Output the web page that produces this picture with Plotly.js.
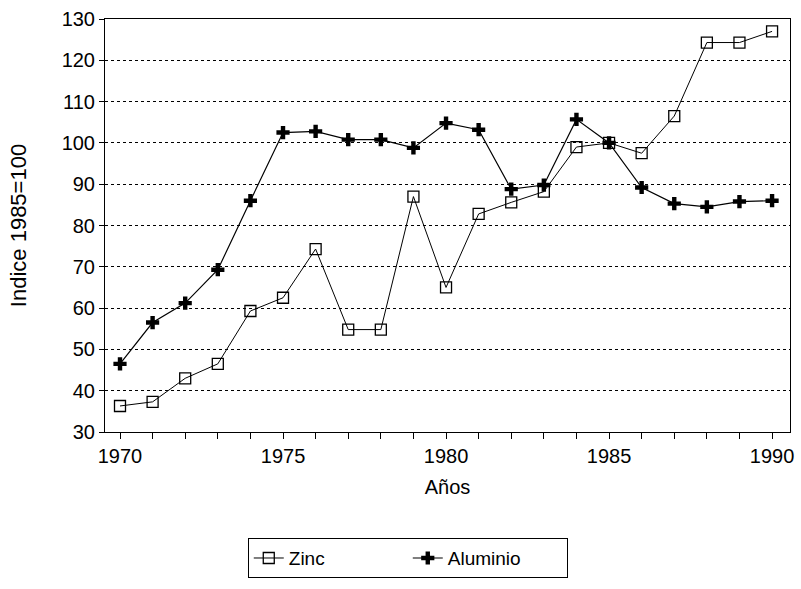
<!DOCTYPE html>
<html>
<head>
<meta charset="utf-8">
<script src="https://cdn.plot.ly/plotly-3.0.1.min.js"></script>
<style>html,body{margin:0;padding:0;background:#fff;}#chart{width:801px;height:589px;}</style>
</head>
<body>
<div id="chart"></div>
<script>
const years = [1970,1971,1972,1973,1974,1975,1976,1977,1978,1979,1980,1981,1982,1983,1984,1985,1986,1987,1988,1989,1990];
const zinc = [36.3,37.3,43,46.5,59.3,62.5,74.3,54.8,54.8,87,65,82.8,85.6,88.2,99,100,97.5,106.5,124.3,124.3,127];
const aluminio = [46.5,56.5,61.2,69.3,86,102.5,102.8,100.8,100.8,98.8,104.8,103.2,88.8,89.8,105.7,100,89.2,85.3,84.5,85.8,86];
const tickYears = years;
const tickLabels = years.map(y => (y % 5 === 0 ? String(y) : ''));

const traces = [
  {x: years, y: zinc, name: 'Zinc', mode: 'lines+markers', type: 'scatter',
   line: {color: '#000', width: 1},
   marker: {symbol: 'square-open', size: 11, color: '#000', line: {width: 1.3, color: '#000'}}},
  {x: years, y: aluminio, name: 'Aluminio', mode: 'lines+markers', type: 'scatter',
   line: {color: '#000', width: 1.2},
   marker: {symbol: 'cross', size: 11, color: '#000', line: {width: 0}}}
];

const layout = {
  width: 801, height: 589,
  margin: {l: 105, r: 11, t: 19, b: 157},
  paper_bgcolor: '#fff', plot_bgcolor: '#fff',
  font: {family: 'Liberation Sans, Arial, sans-serif', size: 20, color: '#000'},
  showlegend: true,
  legend: {orientation: 'h', x: 0.442, xanchor: 'center', y: -0.257, yanchor: 'top',
           bordercolor: '#000', borderwidth: 1, font: {size: 19}, entrywidth: 114},
  xaxis: {
    range: [1969.54, 1990.55], tickmode: 'array', tickvals: tickYears, ticktext: tickLabels,
    ticks: 'outside', ticklen: 6, tickcolor: '#000', showgrid: false, zeroline: false,
    showline: true, linecolor: '#000', linewidth: 1, mirror: true,
    title: {text: 'Años', font: {size: 20}, standoff: 13}
  },
  yaxis: {
    range: [30, 130], dtick: 10, tick0: 30, ticks: 'outside', ticklen: 5, tickcolor: '#000',
    showgrid: true, gridcolor: '#000', griddash: 'dot', gridwidth: 1, zeroline: false,
    showline: true, linecolor: '#000', linewidth: 1, mirror: true,
    title: {text: 'Indice 1985=100', font: {size: 22}, standoff: 28}
  }
};

Plotly.newPlot('chart', traces, layout, {staticPlot: true});
</script>
</body>
</html>
